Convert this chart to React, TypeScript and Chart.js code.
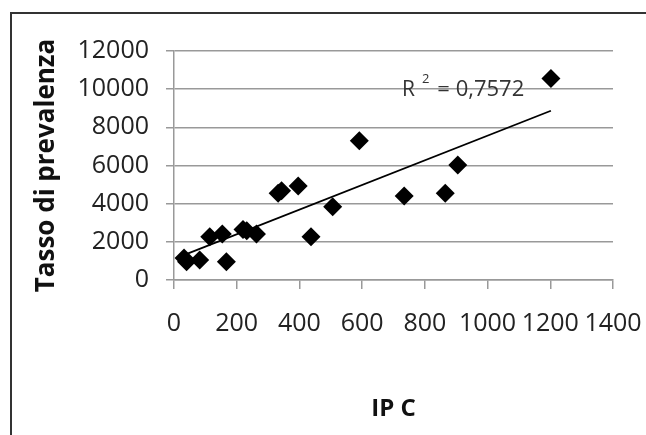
import React, { useEffect, useRef } from "react";
import { Chart, registerables } from "chart.js";

Chart.register(...registerables);

const ipc = [32, 40, 82, 114, 154, 167, 220, 232, 263, 332, 343, 396, 437, 506, 591, 734, 865, 905, 1202];
const tasso = [1150, 950, 1050, 2270, 2410, 960, 2650, 2580, 2410, 4550, 4680, 4920, 2270, 3840, 7300, 4400, 4540, 6020, 10560];

const trendX = [23, 1202];
const trendY = [1250, 8870];

const yTicks = [0, 2000, 4000, 6000, 8000, 10000, 12000];
const xTicks = [0, 200, 400, 600, 800, 1000, 1200, 1400];

const r2Label = { base: "R", sup: "2", rest: "= 0,7572" };
const r2Anchor = { x: 727, y: 9640 };

const FONT = "'Open Sans', 'DejaVu Sans', sans-serif";

const r2Plugin = {
  id: "r2",
  afterDatasetsDraw(chart: any) {
    const { ctx, scales } = chart;
    const x = scales.x.getPixelForValue(r2Anchor.x);
    const y = scales.y.getPixelForValue(r2Anchor.y);
    ctx.save();
    ctx.fillStyle = "#333";
    ctx.textBaseline = "alphabetic";
    ctx.textAlign = "left";
    ctx.font = `21px ${FONT}`;
    ctx.fillText(r2Label.base, x, y);
    const w1 = ctx.measureText(r2Label.base).width;
    ctx.font = `13px ${FONT}`;
    ctx.fillText(r2Label.sup, x + w1 + 7, y - 13);
    const w2 = ctx.measureText(r2Label.sup).width;
    ctx.font = `22px ${FONT}`;
    ctx.fillText(r2Label.rest, x + w1 + 7 + w2 + 8, y);
    ctx.restore();
  },
};

export default function App() {
  const ref = useRef<HTMLCanvasElement>(null);
  useEffect(() => {
    document.body.style.margin = "0";
    const points = ipc.map((v, i) => ({ x: v, y: tasso[i] }));
    const trend = trendX.map((v, i) => ({ x: v, y: trendY[i] }));
    const chart = new Chart(ref.current!, {
      type: "scatter",
      data: {
        datasets: [
          {
            data: trend,
            showLine: true,
            borderColor: "#000",
            borderWidth: 1.8,
            pointRadius: 0,
            order: 2,
          } as any,
          {
            data: points,
            pointStyle: "rectRot",
            pointRadius: 9.5,
            backgroundColor: "#000",
            borderColor: "#000",
            borderWidth: 0,
            order: 1,
          },
        ],
      },
      options: {
        animation: false,
        responsive: false,
        devicePixelRatio: 1,
        layout: { padding: { left: 0, right: 33, top: 51, bottom: 0 } },
        plugins: { legend: { display: false }, tooltip: { enabled: false } },
        scales: {
          x: {
            type: "linear",
            min: 0,
            max: 1400,
            afterBuildTicks: (s: any) => {
              s.ticks = xTicks.map((v) => ({ value: v }));
            },
            afterFit: (s: any) => {
              s.height = 155;
              s.paddingRight = 0;
              s.paddingLeft = 0;
            },
            grid: {
              drawOnChartArea: false,
              drawTicks: true,
              tickLength: 9,
              color: "#999",
              lineWidth: 1.5,
            },
            border: { color: "#999", width: 1.5 },
            ticks: {
              color: "#222",
              font: { family: FONT, size: 25 },
              padding: 20,
              maxRotation: 0,
              autoSkip: false,
              callback: (v: any) => String(v),
            },
            title: {
              display: true,
              text: "IP C",
              color: "#111",
              font: { family: FONT, size: 24, weight: "bold" },
              padding: { top: 0, bottom: 11 },
            },
          },
          y: {
            type: "linear",
            min: 0,
            max: 12000,
            afterBuildTicks: (s: any) => {
              s.ticks = yTicks.map((v) => ({ value: v }));
            },
            afterFit: (s: any) => {
              s.width = 174;
            },
            grid: {
              drawTicks: true,
              tickLength: 8,
              color: "#999",
              lineWidth: 1.5,
            },
            border: { color: "#999", width: 1.5 },
            ticks: {
              color: "#222",
              font: { family: FONT, size: 25 },
              padding: 17,
              callback: (v: any) => String(v),
            },
            title: {
              display: true,
              text: "Tasso di prevalenza",
              color: "#111",
              font: { family: FONT, size: 26, weight: "bold" },
              padding: { top: 31, bottom: 0 },
            },
          },
        },
      },
      plugins: [r2Plugin],
    });
    return () => chart.destroy();
  }, []);

  return (
    <div style={{ position: "fixed", left: 0, top: 0, width: 646, height: 435, background: "#fff", overflow: "hidden" }}>
      <div
        style={{
          position: "absolute",
          left: 10,
          top: 12,
          width: 700,
          height: 500,
          borderLeft: "2px solid #333",
          borderTop: "2px solid #333",
        }}
      />
      <canvas ref={ref} width={646} height={435} style={{ position: "absolute", left: 0, top: 0, width: 646, height: 435 }} />
    </div>
  );
}
